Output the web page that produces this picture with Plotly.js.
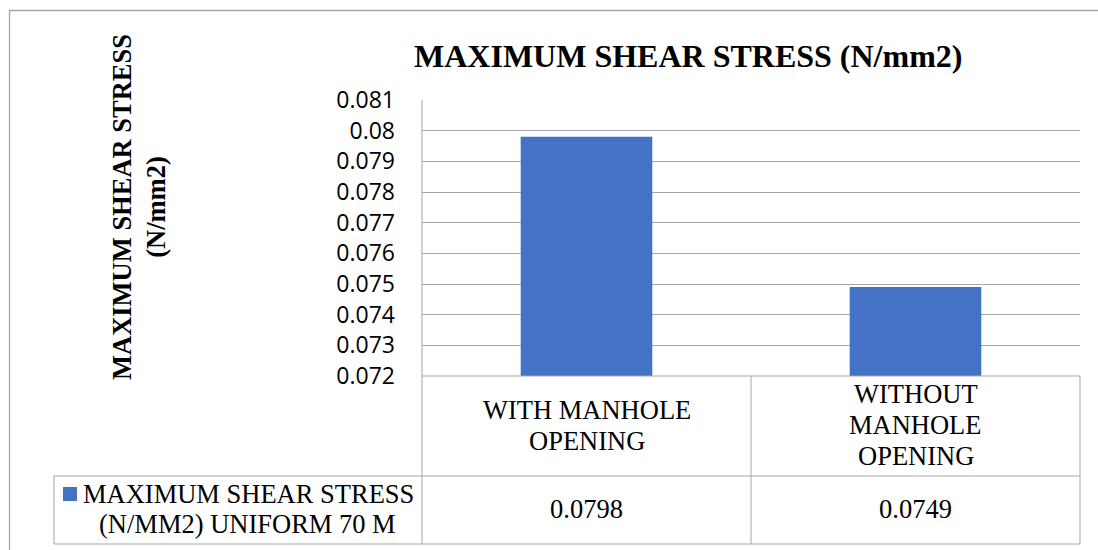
<!DOCTYPE html>
<html>
<head>
<meta charset="utf-8">
<script src="https://cdn.plot.ly/plotly-3.0.1.min.js"></script>
<style>html,body{margin:0;padding:0;background:#fff;}#chart{width:1098px;height:550px;}</style>
</head>
<body>
<div id="chart"></div>
<script>
var categories = ['WITH MANHOLE<br>OPENING', 'WITHOUT<br>MANHOLE<br>OPENING'];
var seriesName = 'MAXIMUM SHEAR STRESS<br>(N/MM2) UNIFORM 70 M';
var values = [0.0798, 0.0749];
var valueLabels = ['0.0798', '0.0749'];
var yTickVals = [0.072, 0.073, 0.074, 0.075, 0.076, 0.077, 0.078, 0.079, 0.08, 0.081];
var yTickLabels = ['0.072', '0.073', '0.074', '0.075', '0.076', '0.077', '0.078', '0.079', '0.08', '0.081'];
var chartTitle = '<b>MAXIMUM SHEAR STRESS (N/mm2)</b>';
var yTitle = '<b>MAXIMUM SHEAR STRESS<br>(N/mm2)</b>';

var W = 1098, H = 550;
var L = 422, R = 1080, T = 100, B = 376;
var pw = R - L, ph = B - T;
function px(x) { return (x - L) / pw; }
function py(y) { return (B - y) / ph; }

var gridCol = '#a6a6a6';
var blue = '#4472c4';
var serif = 'Liberation Serif, serif';
var tblSize = 26.5;
var lineGap = 31;

var trace = {
  type: 'bar',
  x: categories,
  y: values,
  marker: { color: blue },
  hoverinfo: 'none',
  showlegend: false
};

var shapes = [];
function line(x0, y0, x1, y1) {
  shapes.push({ type: 'line', xref: 'paper', yref: 'paper', x0: px(x0), y0: py(y0), x1: px(x1), y1: py(y1),
    line: { color: gridCol, width: 1 } });
}
// outer chart border
shapes.push({ type: 'rect', xref: 'paper', yref: 'paper', x0: px(9.5), y0: py(10.5), x1: px(1105), y1: py(560),
  line: { color: '#a6a6a6', width: 1.3 }, fillcolor: 'rgba(0,0,0,0)' });
// data table lines
line(L, T, L, 544);
line(751, B, 751, 544);
line(R, B, R, 544);
line(L, B, R, B);
line(54, 476, R, 476);
line(54, 544, R, 544);
line(54, 476, 54, 544);
// legend key
shapes.push({ type: 'rect', xref: 'paper', yref: 'paper', x0: px(63), y0: py(487), x1: px(77), y1: py(501),
  line: { width: 0 }, fillcolor: blue });

var annotations = [];
annotations.push({ text: chartTitle, xref: 'paper', yref: 'paper', x: px(688), y: py(56),
  xanchor: 'center', yanchor: 'middle', showarrow: false,
  font: { family: serif, size: 32, color: '#000' } });
annotations.push({ text: yTitle, xref: 'paper', yref: 'paper', x: px(139), y: py(207),
  xanchor: 'center', yanchor: 'middle', showarrow: false, textangle: -90,
  font: { family: serif, size: 26.5, color: '#000' } });

function multiLine(text, xref, x, xanchor, cy) {
  var parts = text.split('<br>');
  var n = parts.length;
  for (var j = 0; j < n; j++) {
    annotations.push({ text: parts[j], xref: xref, yref: 'paper', x: x, y: py(cy + (j - (n - 1) / 2) * lineGap),
      xanchor: xanchor, yanchor: 'middle', showarrow: false,
      font: { family: serif, size: tblSize, color: '#000' } });
  }
}
for (var i = 0; i < categories.length; i++) {
  multiLine(categories[i], 'x', i, 'center', 425);
  annotations.push({ text: valueLabels[i], xref: 'x', yref: 'paper', x: i, y: py(509),
    xanchor: 'center', yanchor: 'middle', showarrow: false,
    font: { family: serif, size: tblSize, color: '#000' } });
}
// legend entry (two lines, second line centred under the first)
(function () {
  var parts = seriesName.split('<br>');
  annotations.push({ text: parts[0], xref: 'paper', yref: 'paper', x: px(81), y: py(494),
    xanchor: 'left', yanchor: 'middle', showarrow: false,
    font: { family: serif, size: tblSize, color: '#000' } });
  annotations.push({ text: parts[1], xref: 'paper', yref: 'paper', x: px(247), y: py(524),
    xanchor: 'center', yanchor: 'middle', showarrow: false,
    font: { family: serif, size: tblSize, color: '#000' } });
})();

var layout = {
  width: W, height: H,
  margin: { l: L, r: W - R, t: T, b: H - B, pad: 0 },
  paper_bgcolor: '#fff', plot_bgcolor: '#fff',
  bargap: 0.6,
  showlegend: false,
  xaxis: { showticklabels: false, ticks: '', showgrid: false, zeroline: false, showline: false, fixedrange: true },
  yaxis: {
    range: [0.072, 0.081], tickvals: yTickVals, ticktext: yTickLabels,
    showgrid: true, gridcolor: gridCol, gridwidth: 1, zeroline: false, showline: false,
    ticks: '', ticklabelstandoff: 26,
    tickfont: { family: 'Open Sans, sans-serif', size: 23, color: '#000' }
  },
  shapes: shapes,
  annotations: annotations
};

Plotly.newPlot('chart', [trace], layout, { displayModeBar: false, staticPlot: true });
</script>
</body>
</html>
